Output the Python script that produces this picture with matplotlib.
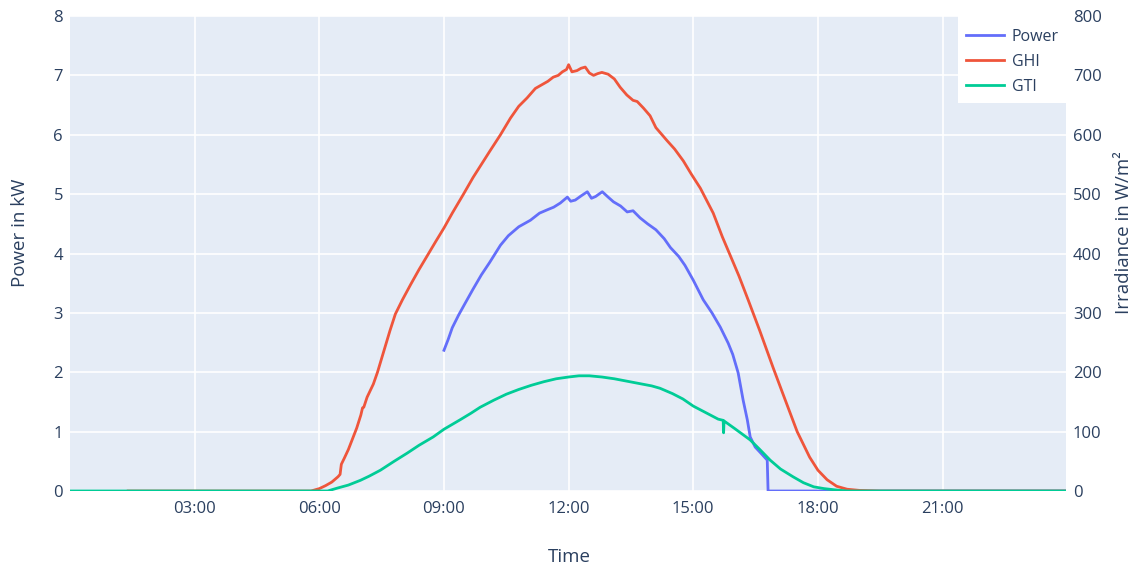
import matplotlib
matplotlib.use("Agg")
import matplotlib.pyplot as plt
from matplotlib.patches import Rectangle
from matplotlib.ticker import FixedLocator, FuncFormatter

plt.rcParams['font.family'] = ['Open Sans', 'DejaVu Sans']

# ---- data (hours of day) ----
power_t = [9.0, 9.1, 9.2, 9.35, 9.5, 9.7, 9.9, 10.1, 10.36, 10.55, 10.8, 11.08, 11.3, 11.5,
           11.64, 11.8, 11.97, 12.05, 12.16, 12.3, 12.45, 12.55, 12.65, 12.81, 12.95, 13.08,
           13.25, 13.41, 13.55, 13.72, 13.9, 14.1, 14.3, 14.45, 14.65, 14.8, 15.0, 15.24,
           15.45, 15.65, 15.84, 15.95, 16.08, 16.2, 16.3, 16.37, 16.49, 16.65, 16.78, 16.8,
           19.0, 23.97]
power_kw = [2.37, 2.55, 2.75, 2.96, 3.15, 3.40, 3.64, 3.85, 4.14, 4.30, 4.45, 4.56, 4.68, 4.74,
            4.78, 4.85, 4.95, 4.88, 4.90, 4.97, 5.04, 4.93, 4.96, 5.04, 4.95, 4.87,
            4.80, 4.70, 4.72, 4.60, 4.50, 4.40, 4.25, 4.10, 3.95, 3.80, 3.55, 3.22,
            3.00, 2.76, 2.49, 2.30, 1.99, 1.53, 1.20, 0.91, 0.74, 0.62, 0.52, 0.0,
            0.0, 0.0]

ghi_t = [1.4, 4.0, 5.8, 5.9, 6.0, 6.15, 6.3, 6.45, 6.5, 6.53, 6.6, 6.7, 6.8, 6.9, 7.0, 7.04,
         7.07, 7.15, 7.3, 7.4, 7.55, 7.7, 7.83, 8.0, 8.2, 8.4, 8.63, 8.8, 9.0, 9.2, 9.47, 9.7,
         9.9, 10.1, 10.36, 10.6, 10.8, 11.0, 11.2, 11.4, 11.5, 11.63, 11.75, 11.85, 11.95,
         12.0, 12.08, 12.2, 12.3, 12.4, 12.5, 12.6, 12.7, 12.8, 12.95, 13.1, 13.24, 13.4,
         13.55, 13.65, 13.8, 13.96, 14.1, 14.37, 14.55, 14.76, 14.95, 15.17, 15.48, 15.7,
         15.87, 16.1, 16.32, 16.6, 16.92, 17.15, 17.5, 17.8, 18.0, 18.22, 18.45, 18.7, 19.0,
         19.5, 23.97]
ghi_wm2 = [0, 0, 0, 2, 4, 9, 15, 24, 28, 45, 55, 70, 88, 106, 128, 140,
           141, 158, 180, 200, 235, 270, 298, 322, 348, 373, 400, 420, 443, 468, 500, 528,
           550, 572, 600, 628, 648, 662, 678, 686, 690, 697, 700, 706, 710,
           718, 706, 708, 712, 714, 704, 700, 703, 705, 702, 694, 680, 667,
           658, 656, 645, 632, 612, 590, 576, 556, 534, 510, 468, 428,
           400, 362, 322, 270, 208, 165, 100, 57, 35, 19, 8, 3, 1,
           0, 0]

gti_t = [0.0, 6.2, 6.44, 6.7, 6.99, 7.2, 7.47, 7.8, 8.12, 8.4, 8.74, 9.0, 9.39, 9.65, 9.87,
         10.2, 10.5, 10.8, 11.1, 11.4, 11.7, 12.0, 12.25, 12.5, 12.8, 13.1, 13.4, 13.7, 14.0,
         14.2, 14.5, 14.75, 15.0, 15.3, 15.6, 15.72, 15.73, 15.74, 16.0, 16.37, 16.6, 16.85,
         17.1, 17.4, 17.65, 17.9, 18.15, 18.4, 18.7, 23.97]
gti_wm2 = [0, 0, 5, 10, 18, 25, 35, 50, 64, 77, 91, 104, 120, 131, 141,
           153, 163, 171, 178, 184, 189, 192, 194, 194, 192, 189, 185, 181, 177,
           173, 164, 155, 143, 132, 121, 119, 98, 118, 105, 86, 70, 52,
           37, 24, 14, 7, 4, 2, 0, 0]

x_ticks = [3, 6, 9, 12, 15, 18, 21]
left_ticks = [0, 1, 2, 3, 4, 5, 6, 7, 8]
right_ticks = [0, 100, 200, 300, 400, 500, 600, 700, 800]

C_POWER, C_GHI, C_GTI = '#636EFA', '#EF553B', '#00CC96'
TXT = '#2a3f5f'

W, H = 1136, 570
fig = plt.figure(figsize=(W / 100, H / 100), dpi=100)
ax = fig.add_axes([70 / W, 79 / H, 996 / W, 475 / H])
ax.set_facecolor('#E5ECF6')
ax2 = ax.twinx()

lp, = ax.plot(power_t, power_kw, color=C_POWER, lw=2.0, label='Power', zorder=3)
lg, = ax2.plot(ghi_t, ghi_wm2, color=C_GHI, lw=2.0, label='GHI', zorder=3)
lt, = ax2.plot(gti_t, gti_wm2, color=C_GTI, lw=2.0, label='GTI', zorder=4)

ax.set_xlim(0, 23.97)
ax.set_ylim(0, 8)
ax2.set_ylim(0, 800)
ax.xaxis.set_major_locator(FixedLocator(x_ticks))
ax.xaxis.set_major_formatter(FuncFormatter(lambda v, p: f"{int(v):02d}:00"))
ax.yaxis.set_major_locator(FixedLocator(left_ticks))
ax2.yaxis.set_major_locator(FixedLocator(right_ticks))

ax.grid(True, color='white', lw=1.2)
ax.set_axisbelow(True)
for a in (ax, ax2):
    for s in a.spines.values():
        s.set_visible(False)
    a.tick_params(length=0, labelsize=12, colors=TXT)
ax.tick_params(axis='y', pad=5)
ax.tick_params(axis='x', pad=7)
ax2.tick_params(axis='y', pad=5)

fig.text(20 / W, 1 - 233 / H, 'Power in kW', rotation=90, ha='center', va='center',
         fontsize=13.5, color=TXT)
fig.text(1124 / W, 1 - 233 / H, 'Irradiance in W/m²', rotation=90, ha='center', va='center',
         fontsize=13.5, color=TXT)
fig.text(569 / W, 1 - 557 / H, 'Time', ha='center', va='center', fontsize=13.5, color=TXT)

# legend box (white background, like plotly's legend)
fig.patches.append(Rectangle((958 / W, 1 - 103 / H), 109 / W, 89 / H,
                             transform=fig.transFigure, facecolor='white',
                             edgecolor='none', zorder=5))
leg = fig.legend(handles=[lp, lg, lt], loc='upper left',
                 bbox_to_anchor=(966 / W, 1 - 29 / H), frameon=False,
                 fontsize=11.5, handlelength=2.4, handletextpad=0.45,
                 labelspacing=0.56, borderpad=0, borderaxespad=0)
leg.set_zorder(6)
for t in leg.get_texts():
    t.set_color(TXT)

fig.savefig('out.png', dpi=100)
